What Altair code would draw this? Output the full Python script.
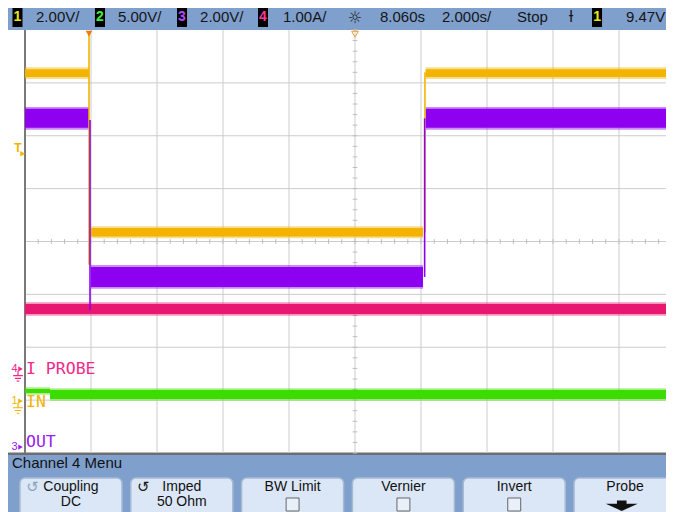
import altair as alt
import pandas as pd
import numpy as np

# ---------------- scope settings ----------------
T_CENTER = 8.06   # s at screen centre (delay)
T_PER_DIV = 2.0   # s/div

# visible screen window, in divisions (x: time div from centre, y: volt div from centre)
X_DOMAIN = [-5.2576, 4.7121]
Y_DOMAIN = [-5.1158, 4.4161]

# ---------------- header (status line) ----------------
hdr_box_x = [-5.114, -3.864, -2.621, -1.394, 3.667]
hdr_box_digit = ["1", "2", "3", "4", "1"]
hdr_box_color = ["#eaea10", "#3cf03c", "#b44cff", "#ff3399", "#eaea10"]
hdr_text = ["2.00V/", "5.00V/", "2.00V/", "1.00A/", "8.060s", "2.000s/", "Stop", "9.47V"]
hdr_text_x = [-4.833, -3.591, -2.348, -1.091, 0.379, 1.318, 2.455, 4.105]
HDR_Y = 4.246

# ---------------- traces (time in s, levels in div; band = [lo, hi]) ----------------
# CH1 yellow "IN"
ch1_t0 = [-1.94, 0.06, 10.20]
ch1_t1 = [0.00, 10.12, 18.06]
ch1_lo = [3.11, 0.095, 3.11]
ch1_hi = [3.26, 0.255, 3.26]
# CH2 green
ch2_t0 = [-1.94, -1.18]
ch2_t1 = [-1.18, 18.06]
ch2_lo = [-2.865, -2.979]
ch2_hi = [-2.790, -2.809]
# CH3 purple "OUT"
ch3_t0 = [-1.94, 0.06, 10.20]
ch3_t1 = [0.00, 10.12, 18.06]
ch3_lo = [2.15, -0.86, 2.15]
ch3_hi = [2.51, -0.48, 2.51]
# CH4 pink "I PROBE"
ch4_t0 = [-1.94]
ch4_t1 = [18.06]
ch4_lo = [-1.371]
ch4_hi = [-1.182]

# switching edges
edge_t = [0.00, 0.03, 10.18, 10.17]
edge_lo = [-0.44, -1.30, 0.17, -0.67]
edge_hi = [3.94, 2.30, 3.20, 2.33]
edge_ch = ["1", "3", "1", "3"]

CH_COLOR = {"1": "#f2b400", "2": "#3ddc00", "3": "#8e00f0", "4": "#e8176f"}
FUZZ = 0.035

# ---------------- channel labels at left ----------------
lab_text = ["I PROBE", "IN", "OUT"]
lab_y = [-2.411, -3.030, -3.783]
lab_color = ["#ee2a88", "#f2b400", "#9a20f0"]
gnd_digit = ["4", "1", "3"]
gnd_y = [-2.411, -3.017, -3.887]
gnd_color = ["#ee2a88", "#f2b400", "#9a20f0"]

# ---------------- soft-key menu ----------------
menu_title = "Channel 4 Menu"
btn_line1 = ["Coupling", "Imped", "BW Limit", "Vernier", "Invert", "Probe"]
btn_line2 = ["DC", "50 Ohm", "", "", "", ""]
btn_check = [False, False, True, True, True, False]
BTN_LEFT0, BTN_PITCH, BTN_W = -5.076, 1.679, 1.545

BAR = "#7fa0cd"

XS = alt.Scale(domain=X_DOMAIN, nice=False, zero=False)
YS = alt.Scale(domain=Y_DOMAIN, nice=False, zero=False)


def tdiv(t):
    return (np.asarray(t, dtype=float) - T_CENTER) / T_PER_DIV


def rects(df, **kw):
    return alt.Chart(df).mark_rect(clip=True, **kw).encode(
        x=alt.X("x:Q", scale=XS, axis=None), x2="x2:Q",
        y=alt.Y("y:Q", scale=YS, axis=None), y2="y2:Q",
        color=alt.Color("color:N", scale=None),
        opacity=alt.Opacity("op:Q", scale=None))


def texts(df, size, font="Liberation Sans", align="left", weight="normal"):
    return alt.Chart(df).mark_text(align=align, baseline="middle", font=font,
                                   fontSize=size, fontWeight=weight, clip=True).encode(
        x=alt.X("x:Q", scale=XS, axis=None),
        y=alt.Y("y:Q", scale=YS, axis=None),
        text="text:N", color=alt.Color("color:N", scale=None))


layers = []

# backgrounds: status bar, menu bar, menu border
bg = pd.DataFrame({
    "x": [-6, -6, -6], "x2": [6, 6, 6],
    "y": [4.0, -4.038, -3.99], "y2": [4.6, -5.4, -4.038],
    "color": [BAR, BAR, "#6e6e6e"], "op": [1, 1, 1]})
layers.append(rects(bg))

# grid
vx = np.arange(-4, 5)
gv = pd.DataFrame({"x": vx, "y": -4.0, "y2": 4.0})
layers.append(alt.Chart(gv).mark_rule(color="#cccccc", strokeWidth=1, clip=True).encode(
    x=alt.X("x:Q", scale=XS, axis=None), y=alt.Y("y:Q", scale=YS, axis=None), y2="y2:Q"))
hy = np.arange(-3, 4)
gh = pd.DataFrame({"y": hy, "x": -5.0, "x2": 5.0})
layers.append(alt.Chart(gh).mark_rule(color="#cccccc", strokeWidth=1, clip=True).encode(
    y=alt.Y("y:Q", scale=YS, axis=None), x=alt.X("x:Q", scale=XS, axis=None), x2="x2:Q"))
# minor ticks on centre axes
tk_y = np.arange(-20, 21) / 5.0
tkv = pd.DataFrame({"y": tk_y, "x": -0.035, "x2": 0.035})
layers.append(alt.Chart(tkv).mark_rule(color="#bdbdbd", strokeWidth=1, clip=True).encode(
    y=alt.Y("y:Q", scale=YS, axis=None), x=alt.X("x:Q", scale=XS, axis=None), x2="x2:Q"))
tk_x = np.arange(-25, 25) / 5.0
tkh = pd.DataFrame({"x": tk_x, "y": -0.045, "y2": 0.045})
layers.append(alt.Chart(tkh).mark_rule(color="#bdbdbd", strokeWidth=1, clip=True).encode(
    x=alt.X("x:Q", scale=XS, axis=None), y=alt.Y("y:Q", scale=YS, axis=None), y2="y2:Q"))
# left border
lb = pd.DataFrame({"x": [-5.0], "y": [-4.0], "y2": [4.0]})
layers.append(alt.Chart(lb).mark_rule(color="#7a7a7a", strokeWidth=2, clip=True).encode(
    x=alt.X("x:Q", scale=XS, axis=None), y=alt.Y("y:Q", scale=YS, axis=None), y2="y2:Q"))

# traces
rows = []
for ch, (t0, t1, lo, hi) in {"4": (ch4_t0, ch4_t1, ch4_lo, ch4_hi),
                             "2": (ch2_t0, ch2_t1, ch2_lo, ch2_hi),
                             "3": (ch3_t0, ch3_t1, ch3_lo, ch3_hi),
                             "1": (ch1_t0, ch1_t1, ch1_lo, ch1_hi)}.items():
    for a, b, l, h in zip(tdiv(t0), tdiv(t1), lo, hi):
        rows.append(dict(x=a, x2=b, y=l - FUZZ, y2=h + FUZZ, color=CH_COLOR[ch], op=0.45))
        rows.append(dict(x=a, x2=b, y=l, y2=h, color=CH_COLOR[ch], op=1.0))
layers.append(rects(pd.DataFrame(rows)))

edges = pd.DataFrame({"x": tdiv(edge_t), "y": edge_lo, "y2": edge_hi,
                      "color": [CH_COLOR[c] for c in edge_ch]})
layers.append(alt.Chart(edges).mark_rule(strokeWidth=1.6, clip=True).encode(
    x=alt.X("x:Q", scale=XS, axis=None), y=alt.Y("y:Q", scale=YS, axis=None), y2="y2:Q",
    color=alt.Color("color:N", scale=None)))

# header boxes and texts
hb = pd.DataFrame({"x": np.array(hdr_box_x) - 0.076, "x2": np.array(hdr_box_x) + 0.076,
                   "y": 4.057, "y2": 4.454, "color": "#000000", "op": 1})
layers.append(rects(hb))
layers.append(texts(pd.DataFrame({"x": hdr_box_x, "y": HDR_Y, "text": hdr_box_digit,
                                  "color": hdr_box_color}), 14, align="center", weight="bold"))
layers.append(texts(pd.DataFrame({"x": hdr_text_x, "y": HDR_Y, "text": hdr_text,
                                  "color": "#151515"}), 15))
layers.append(texts(pd.DataFrame({"x": [0.0], "y": [4.23], "text": ["☼"], "color": ["#222222"]}),
                    16, font="DejaVu Sans", align="center"))
layers.append(texts(pd.DataFrame({"x": [3.273], "y": [HDR_Y], "text": ["ƚ"], "color": ["#151515"]}),
                    15, font="DejaVu Sans", align="center"))

# trigger position / delay / trigger level markers
layers.append(alt.Chart(pd.DataFrame({"x": [tdiv(0.0)], "y": [3.93]})).mark_point(
    shape="triangle-down", filled=True, size=45, color="#f07a10", opacity=1, clip=True).encode(
    x=alt.X("x:Q", scale=XS, axis=None), y=alt.Y("y:Q", scale=YS, axis=None)))
layers.append(alt.Chart(pd.DataFrame({"x": [0.0], "y": [3.92]})).mark_point(
    shape="triangle-down", filled=False, size=45, color="#f09a30", strokeWidth=1, opacity=1, clip=True).encode(
    x=alt.X("x:Q", scale=XS, axis=None), y=alt.Y("y:Q", scale=YS, axis=None)))
layers.append(texts(pd.DataFrame({"x": [-5.106], "y": [1.77], "text": ["T"], "color": ["#f2b400"]}),
                    12, align="center", weight="bold"))
layers.append(alt.Chart(pd.DataFrame({"x": [-5.035], "y": [1.66]})).mark_point(
    shape="triangle-right", filled=True, size=30, color="#f2b400", opacity=1, clip=True).encode(
    x=alt.X("x:Q", scale=XS, axis=None), y=alt.Y("y:Q", scale=YS, axis=None)))

# channel ground markers and labels
gm = pd.DataFrame({"x": -5.159, "y": gnd_y, "text": gnd_digit, "color": gnd_color})
layers.append(texts(gm, 11, align="center"))
layers.append(alt.Chart(gm.assign(x=-5.068)).mark_point(
    shape="triangle-right", filled=True, size=28, opacity=1, clip=True).encode(
    x=alt.X("x:Q", scale=XS, axis=None), y=alt.Y("y:Q", scale=YS, axis=None),
    color=alt.Color("color:N", scale=None)))
gs = pd.DataFrame({"x": -5.106, "y": np.array(gnd_y[:2]) - 0.15, "color": gnd_color[:2]})
layers.append(alt.Chart(gs).mark_point(
    shape="M0,-1L0,-0.2M-0.8,-0.2L0.8,-0.2M-0.5,0.25L0.5,0.25M-0.2,0.7L0.2,0.7",
    filled=False, size=150, strokeWidth=1.2, opacity=1, clip=True).encode(
    x=alt.X("x:Q", scale=XS, axis=None), y=alt.Y("y:Q", scale=YS, axis=None),
    color=alt.Color("color:N", scale=None)))
layers.append(texts(pd.DataFrame({"x": -4.985, "y": lab_y, "text": lab_text, "color": lab_color}),
                    16.5, font="DejaVu Sans Mono"))

# menu
layers.append(texts(pd.DataFrame({"x": [-5.197], "y": [-4.189], "text": [menu_title],
                                  "color": ["#111111"]}), 15))
bl = BTN_LEFT0 + BTN_PITCH * np.arange(6)
bc = bl + BTN_W / 2
btn = pd.DataFrame({"x": bl, "x2": bl + BTN_W, "y": -4.473, "y2": -5.4})
layers.append(alt.Chart(btn).mark_rect(fill="#dbe7f7", stroke="#a9bbd3", strokeWidth=1.5,
                                       cornerRadius=5, clip=True).encode(
    x=alt.X("x:Q", scale=XS, axis=None), x2="x2:Q",
    y=alt.Y("y:Q", scale=YS, axis=None), y2="y2:Q"))
layers.append(texts(pd.DataFrame({"x": bc, "y": -4.652, "text": btn_line1, "color": "#111111"}),
                    14, align="center"))
layers.append(texts(pd.DataFrame({"x": bc, "y": -4.936, "text": btn_line2, "color": "#111111"}),
                    14, align="center"))
cb = bc[np.array(btn_check)]
chk = pd.DataFrame({"x": cb - 0.098, "x2": cb + 0.098, "y": -5.097, "y2": -4.851})
layers.append(alt.Chart(chk).mark_rect(fill="#e9f0fa", stroke="#666666", strokeWidth=1, clip=True).encode(
    x=alt.X("x:Q", scale=XS, axis=None), x2="x2:Q",
    y=alt.Y("y:Q", scale=YS, axis=None), y2="y2:Q"))
# icons on Coupling / Imped keys
icons = pd.DataFrame({"x": [bl[0] + 0.19, bl[1] + 0.19], "y": -4.652, "text": ["↺", "↺"],
                      "color": ["#8da3be", "#1a1a1a"]})
layers.append(texts(icons, 15, font="DejaVu Sans", align="center"))
# arrow on Probe key
layers.append(alt.Chart(pd.DataFrame({"x": [bc[5] - 0.05], "y": [-4.99]})).mark_point(
    shape="M-0.3,-0.3L0.3,-0.3L0.3,-0.1L1,-0.1L0,0.35L-1,-0.1L-0.3,-0.1Z",
    filled=True, size=1024, color="#111111", opacity=1, clip=True).encode(
    x=alt.X("x:Q", scale=XS, axis=None), y=alt.Y("y:Q", scale=YS, axis=None)))

chart = alt.layer(*layers).properties(width=658, height=504, padding=0, background="white") \
    .configure_view(stroke=None)

chart.save("out.html", embed_options={"renderer": "svg", "actions": False})
